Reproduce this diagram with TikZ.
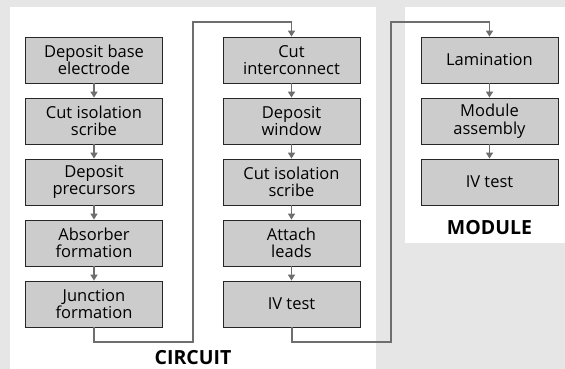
\documentclass[tikz,border=0pt]{standalone}
\usepackage{fontspec}
\setmainfont{Open Sans}
\usetikzlibrary{arrows.meta}
\definecolor{bg}{HTML}{E6E6E6}
\definecolor{boxfill}{HTML}{CCCCCC}
\definecolor{conn}{HTML}{6E6E6E}
\tikzset{
  x=1pt,y=-1pt,
  stepbox/.style={draw=black!85,fill=boxfill,line width=0.8pt,minimum width=137pt,minimum height=46pt,inner sep=0pt,align=center,font=\fontsize{16.5}{17.5}\selectfont},
  arr/.style={draw=conn,line width=1.8pt,-{Triangle[width=7pt,length=6pt]}},
  link/.style={draw=conn,line width=2pt},
  paneltitle/.style={font=\fontsize{19.5}{21}\selectfont\bfseries}
}
\begin{document}
\begin{tikzpicture}
\useasboundingbox (0,0) rectangle (565,369);
\fill[bg] (0,0) rectangle (565,369);
\fill[white] (10,7) rectangle (376,369);
\fill[white] (405,7) rectangle (565,243);
% column 1
\node[stepbox] (a1) at (94,60) {Deposit base\\electrode};
\node[stepbox] (a2) at (94,121) {Cut isolation\\scribe};
\node[stepbox] (a3) at (94,182) {Deposit\\precursors};
\node[stepbox] (a4) at (94,243) {Absorber\\formation};
\node[stepbox] (a5) at (94,304) {Junction\\formation};
% column 2
\node[stepbox] (b1) at (291.5,60) {Cut\\interconnect};
\node[stepbox] (b2) at (291.5,121) {Deposit\\window};
\node[stepbox] (b3) at (291.5,182) {Cut isolation\\scribe};
\node[stepbox] (b4) at (291.5,243) {Attach\\leads};
\node[stepbox] (b5) at (291.5,304) {IV test};
% column 3
\node[stepbox] (m1) at (489.5,60) {Lamination};
\node[stepbox] (m2) at (489.5,121) {Module\\assembly};
\node[stepbox] (m3) at (489.5,182) {IV test};
% labels
\node[paneltitle] (lc) at (193,358) {CIRCUIT};
\node[paneltitle] (lm) at (489.5,228) {MODULE};
% arrows within columns
\foreach \u/\v in {a1/a2,a2/a3,a3/a4,a4/a5,b1/b2,b2/b3,b3/b4,b4/b5,m1/m2,m2/m3}
  \draw[arr] (\u) -- (\v);
% links between columns
\coordinate (p1) at (94,342);
\coordinate (p2) at (192.5,342);
\coordinate (p3) at (192.5,22);
\coordinate (p4) at (291.5,22);
\draw[link,line join=miter] (a5.south) -- (p1) -- (p2) -- (p3) -- (p4);
\draw[arr] (p4) -- (b1.north);
\coordinate (q1) at (291.5,342);
\coordinate (q2) at (391,342);
\coordinate (q3) at (391,22);
\coordinate (q4) at (489.5,22);
\draw[link,line join=miter] (b5.south) -- (q1) -- (q2) -- (q3) -- (q4);
\draw[arr] (q4) -- (m1.north);
\end{tikzpicture}
\end{document}
